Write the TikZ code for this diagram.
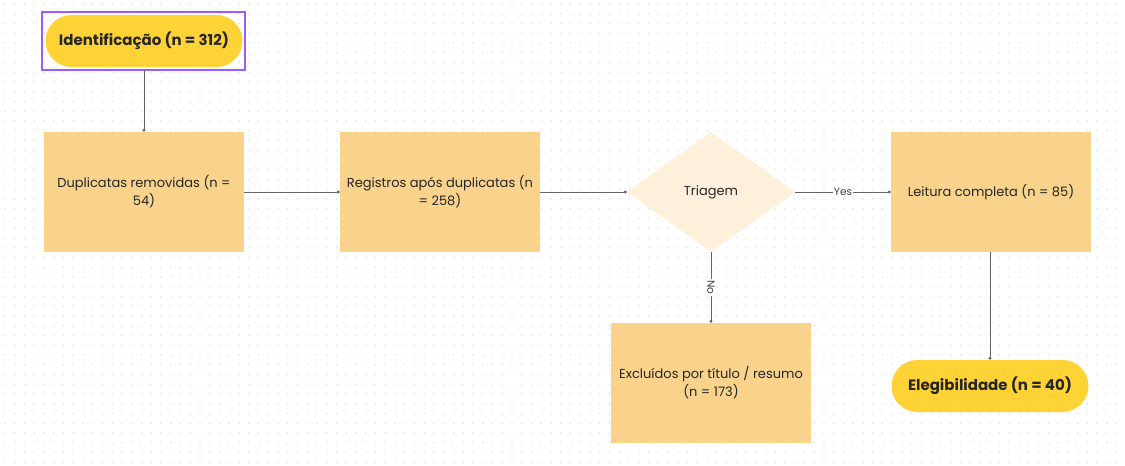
\documentclass[tikz,border=0pt]{standalone}
\usepackage{fontspec}
\setmainfont{Poppins}
\usetikzlibrary{shapes.geometric,arrows.meta}
\definecolor{pillgold}{HTML}{FFD236}
\definecolor{boxfill}{HTML}{F9D38C}
\definecolor{decfill}{HTML}{FEF0DA}
\definecolor{linegray}{HTML}{666666}
\definecolor{dotgray}{HTML}{E2E2E2}
\definecolor{selpurple}{HTML}{9B5CFA}

\begin{document}
\begin{tikzpicture}[x=1pt, y=-1pt, font=\fontsize{13}{18}\selectfont]
	\tikzstyle{box} = [rectangle, fill=boxfill, minimum width=200pt, minimum height=120pt, align=center, inner sep=2pt, text=black!85]
	\tikzstyle{pill} = [rectangle, rounded corners=26pt, fill=pillgold, minimum width=197pt, minimum height=52pt, font=\fontsize{15}{18}\selectfont\bfseries, text=black!85]
	\tikzstyle{decision} = [diamond, fill=decfill, minimum width=168pt, minimum height=120pt, inner sep=0pt, text=black!85]
	\tikzstyle{link} = [draw=linegray, line width=0.8pt, -{Circle[length=3pt]}]
	\tikzstyle{lbl} = [fill=white, inner sep=1pt, font=\fontsize{10.5}{12}\selectfont, text=black!75]
	% background
	\useasboundingbox (0,0) rectangle (1125,466);
	\fill[white] (0,0) rectangle (1125,466);
	\foreach \i in {0,...,115}
		\foreach \j in {0,...,47}
			\fill[dotgray] (5+\i*9.75, 4+\j*9.75) circle (0.9);
	% nodes
	\node[pill] (idt) at (144,41) {Identificação (n = 312)};
	\draw[selpurple, line width=1.5pt] (42,12) rectangle (245,70);
	\node[box] (dup) at (144,192) {Duplicatas removidas (n =\\54)};
	\node[box] (reg) at (440,192) {Registros após duplicatas (n\\= 258)};
	\node[decision] (tri) at (711,192) {Triagem};
	\node[box] (lei) at (991,192) {Leitura completa (n = 85)};
	\node[box] (exc) at (711,383) {Excluídos por título / resumo\\(n = 173)};
	\node[pill] (ele) at (990,386) {Elegibilidade (n = 40)};
	% connectors
	\draw[link] (144,70) -- (dup);
	\draw[link] (dup) -- (reg);
	\draw[link] (reg) -- (tri);
	\draw[link] (tri) -- node[lbl] {Yes} (lei);
	\draw[link] (tri) -- node[lbl, rotate=-90] {No} (exc);
	\draw[link] (lei.south -| ele.north) -- (ele);
\end{tikzpicture}
\end{document}
